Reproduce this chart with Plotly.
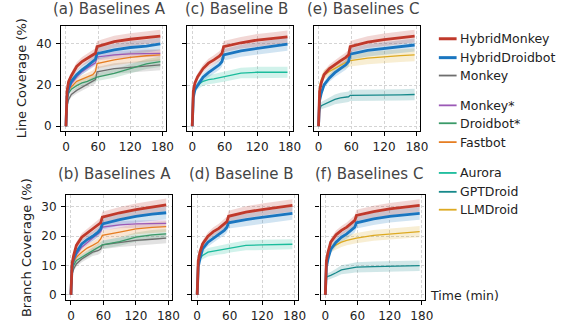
import plotly.graph_objects as go

# ---------------- data ----------------
T = [0, 2, 5, 10, 20, 30, 40, 50, 55, 58, 90, 120, 150, 176]

# Line coverage (%)
HM_A = [0, 17.0, 21.8, 24.5, 29.0, 31.4, 33.0, 34.6, 35.4, 38.6, 41.0, 42.2, 42.9, 43.7]
HD_A = [0, 14.5, 18.6, 21.8, 25.0, 27.4, 29.3, 31.4, 32.5, 35.2, 37.0, 38.2, 38.9, 40.0]
MK_A = [0, 10.0, 13.0, 15.4, 17.4, 19.0, 20.6, 22.0, 22.6, 26.4, 28.0, 28.6, 29.3, 29.8]
MKS_A = [0, 13.5, 17.5, 20.5, 24.0, 26.5, 28.3, 30.0, 30.8, 33.6, 34.6, 35.1, 35.4, 35.3]
DB_A = [0, 12.5, 16.0, 18.0, 19.7, 21.0, 21.8, 22.9, 23.3, 23.8, 25.6, 28.0, 30.2, 31.3]
FB_A = [0, 13.5, 17.8, 19.0, 21.8, 22.9, 23.8, 25.0, 26.6, 30.4, 32.2, 33.4, 34.2, 34.6]

HM_C = [0, 17.0, 21.0, 24.0, 28.0, 30.6, 32.2, 34.0, 35.4, 38.6, 40.5, 41.8, 42.6, 43.4]
HD_C = [0, 14.0, 17.8, 20.0, 23.8, 26.0, 27.7, 29.8, 31.4, 34.6, 36.6, 37.8, 38.9, 39.8]
AU_C = [0, 14.0, 17.8, 20.0, 21.8, 22.6, 23.0, 23.5, 23.8, 24.0, 25.8, 26.2, 26.2, 26.2]

HM_E = [0, 17.0, 21.0, 25.0, 28.0, 30.0, 31.7, 33.4, 34.6, 38.6, 40.8, 42.0, 42.8, 43.7]
HD_E = [0, 12.5, 16.0, 20.0, 23.4, 26.0, 28.0, 29.8, 31.4, 35.0, 36.8, 37.8, 38.7, 39.4]
GD_E = [0, 8.0, 10.0, 10.6, 11.7, 13.0, 13.8, 14.0, 14.3, 15.0, 15.0, 15.1, 15.2, 15.4]
LL_E = [0, 19.4, 22.6, 25.0, 26.6, 28.0, 29.8, 30.9, 31.4, 31.8, 33.0, 33.8, 34.3, 34.6]

# Branch coverage (%)
HM_B = [0, 10.5, 13.4, 16.8, 19.6, 21.0, 22.2, 23.6, 24.5, 26.4, 27.9, 29.0, 29.8, 30.6]
HD_B = [0, 9.5, 12.2, 14.5, 17.3, 18.8, 19.9, 21.3, 22.4, 24.1, 25.6, 26.7, 27.4, 27.9]
MK_B = [0, 7.0, 8.8, 10.5, 12.2, 13.4, 14.5, 15.0, 15.6, 17.0, 17.9, 18.5, 18.9, 19.3]
MKS_B = [0, 9.0, 11.7, 13.6, 16.2, 17.9, 19.3, 20.7, 21.5, 23.0, 23.8, 24.1, 24.2, 24.3]
DB_B = [0, 8.0, 10.0, 11.7, 12.8, 13.9, 15.0, 16.2, 16.6, 17.0, 18.1, 19.6, 20.4, 20.7]
FB_B = [0, 8.5, 11.1, 12.8, 14.5, 15.9, 16.8, 17.9, 19.0, 20.2, 21.3, 22.4, 22.9, 23.2]

HM_D = [0, 11.5, 14.5, 17.3, 19.9, 21.5, 22.6, 24.1, 24.9, 26.7, 28.1, 29.0, 29.8, 30.4]
HD_D = [0, 9.5, 12.2, 15.6, 17.9, 19.3, 20.7, 21.9, 23.0, 24.5, 25.6, 26.4, 27.0, 27.7]
AU_D = [0, 9.5, 12.2, 13.4, 14.5, 14.8, 15.2, 15.4, 15.7, 15.9, 16.8, 17.0, 17.1, 17.2]

HM_F = [0, 11.5, 14.5, 17.9, 20.4, 21.9, 23.0, 24.5, 25.3, 27.0, 28.3, 29.2, 29.8, 30.4]
HD_F = [0, 9.5, 12.2, 15.4, 17.9, 19.6, 20.7, 22.2, 23.0, 24.5, 25.8, 26.7, 27.2, 27.7]
GD_F = [0, 6.0, 6.3, 6.6, 7.5, 8.5, 8.8, 9.1, 9.3, 9.4, 9.6, 9.7, 9.8, 9.9]
LL_F = [0, 12.5, 15.0, 15.9, 17.0, 17.9, 18.5, 19.0, 19.2, 19.3, 20.2, 20.7, 21.1, 21.5]

# relative half-width of the shaded spread band
REL_SPREAD = {"HybridMonkey": 0.07, "HybridDroidbot": 0.08, "Monkey": 0.09,
              "Monkey*": 0.05, "Droidbot*": 0.08, "Fastbot": 0.08,
              "Aurora": 0.10, "GPTDroid": 0.18, "LLMDroid": 0.09}

TITLES = ["(a) Baselines A", "(c) Baseline B", "(e) Baselines C",
          "(b) Baselines A", "(d) Baseline B", "(f) Baselines C"]
X_TICKS = [0, 60, 120, 180]
Y_TICKS_LINE = [0, 20, 40]
Y_TICKS_BRANCH = [0, 10, 20, 30]

# ---------------- style ----------------
COLORS = {"HybridMonkey": "#C0392B", "HybridDroidbot": "#1A76C0", "Monkey": "#6E6E6E",
          "Monkey*": "#9B59B6", "Droidbot*": "#3A9A68", "Fastbot": "#E67E22",
          "Aurora": "#1ABC9C", "GPTDroid": "#17898B", "LLMDroid": "#DDAA22"}
THICK = {"HybridMonkey", "HybridDroidbot"}

PANELS = [
    [("Monkey", MK_A), ("Droidbot*", DB_A), ("Fastbot", FB_A), ("Monkey*", MKS_A),
     ("HybridDroidbot", HD_A), ("HybridMonkey", HM_A)],
    [("Aurora", AU_C), ("HybridDroidbot", HD_C), ("HybridMonkey", HM_C)],
    [("GPTDroid", GD_E), ("LLMDroid", LL_E), ("HybridDroidbot", HD_E), ("HybridMonkey", HM_E)],
    [("Monkey", MK_B), ("Droidbot*", DB_B), ("Fastbot", FB_B), ("Monkey*", MKS_B),
     ("HybridDroidbot", HD_B), ("HybridMonkey", HM_B)],
    [("Aurora", AU_D), ("HybridDroidbot", HD_D), ("HybridMonkey", HM_D)],
    [("GPTDroid", GD_F), ("LLMDroid", LL_F), ("HybridDroidbot", HD_F), ("HybridMonkey", HM_F)],
]

W, H = 578, 328
# pixel boxes in the window (left, right, top, bottom)
BOXES = [(62, 168, 26, 132), (190, 297, 26, 132), (318, 426, 26, 132),
         (67, 174, 196, 302), (195, 302, 196, 302), (325, 431, 196, 302)]


def px_x(v):
    return v / W


def px_y(v):
    return 1 - v / H


def rgba(hexc, a):
    h = hexc.lstrip("#")
    r, g, b = int(h[0:2], 16), int(h[2:4], 16), int(h[4:6], 16)
    return f"rgba({r},{g},{b},{a})"


fig = go.Figure()

for i, series in enumerate(PANELS):
    xa = "x" if i == 0 else f"x{i+1}"
    ya = "y" if i == 0 else f"y{i+1}"
    for name, vals in series:
        rel = REL_SPREAD[name]
        up = [v * (1 + rel) for v in vals]
        lo = [v * (1 - rel) for v in vals]
        fig.add_trace(go.Scatter(x=T + T[::-1], y=up + lo[::-1], fill="toself",
                                 fillcolor=rgba(COLORS[name], 0.2), line=dict(width=0),
                                 mode="lines", hoverinfo="skip", showlegend=False,
                                 xaxis=xa, yaxis=ya))
    for name, vals in series:
        fig.add_trace(go.Scatter(x=T, y=vals, mode="lines", name=name,
                                 line=dict(color=COLORS[name], width=2.8 if name in THICK else 1.3),
                                 showlegend=False, xaxis=xa, yaxis=ya))

layout = dict(width=W, height=H, margin=dict(l=0, r=0, t=0, b=0),
              paper_bgcolor="white", plot_bgcolor="white",
              font=dict(family="DejaVu Sans", size=12, color="#222"))

axis_common = dict(showline=True, mirror=True, linecolor="black", linewidth=1.2,
                   ticks="outside", ticklen=4, tickwidth=1, tickcolor="black",
                   showgrid=True, gridcolor="#d4d4d4", gridwidth=0.8, griddash="3px,2px",
                   zeroline=False, tickfont=dict(size=12, color="#222"))

for i, (l, r, t, b) in enumerate(BOXES):
    xk = "xaxis" if i == 0 else f"xaxis{i+1}"
    yk = "yaxis" if i == 0 else f"yaxis{i+1}"
    ya = "y" if i == 0 else f"y{i+1}"
    xa = "x" if i == 0 else f"x{i+1}"
    top_row = i < 3
    layout[xk] = dict(axis_common, domain=[px_x(l), px_x(r)], range=[-9, 186],
                      tickvals=X_TICKS, anchor=ya)
    yt = Y_TICKS_LINE if top_row else Y_TICKS_BRANCH
    layout[yk] = dict(axis_common, domain=[px_y(b), px_y(t)],
                      range=[-2.4, 48.7] if top_row else [-1.8, 34.0],
                      tickvals=yt, showticklabels=(i in (0, 3)), anchor=xa,
                      ticklabelstandoff=2)

fig.update_layout(**layout)

ann = []
for i, (l, r, t, b) in enumerate(BOXES):
    cy = 9 if i < 3 else 175
    ann.append(dict(x=px_x((l + r) / 2 - 4), y=px_y(cy), xref="paper", yref="paper",
                    text=TITLES[i], showarrow=False, xanchor="center", yanchor="middle",
                    font=dict(size=15, color="#444")))

ann.append(dict(x=px_x(22), y=px_y(79), xref="paper", yref="paper", text="Line Coverage (%)",
                textangle=-90, showarrow=False, xanchor="center", yanchor="middle",
                font=dict(size=13, color="#222")))
ann.append(dict(x=px_x(27), y=px_y(249), xref="paper", yref="paper", text="Branch Coverage (%)",
                textangle=-90, showarrow=False, xanchor="center", yanchor="middle",
                font=dict(size=13, color="#222")))
ann.append(dict(x=px_x(434), y=px_y(297), xref="paper", yref="paper", text="Time (min)",
                xanchor="left", yanchor="middle", showarrow=False, font=dict(size=12.5, color="#222")))

# legend (drawn manually to match grouping)
LEGEND_ORDER = ["HybridMonkey", "HybridDroidbot", "Monkey", "Monkey*", "Droidbot*",
                "Fastbot", "Aurora", "GPTDroid", "LLMDroid"]
LEGEND_Y = [39, 58, 76, 106, 124, 143, 174, 193, 211]
shapes = []
for name, ly in zip(LEGEND_ORDER, LEGEND_Y):
    shapes.append(dict(type="line", xref="paper", yref="paper",
                       x0=px_x(445), x1=px_x(463), y0=px_y(ly), y1=px_y(ly),
                       line=dict(color=COLORS[name], width=3 if name in THICK else 1.8)))
    ann.append(dict(x=px_x(464), y=px_y(ly), xref="paper", yref="paper", text=name,
                    xanchor="left", yanchor="middle", showarrow=False,
                    font=dict(size=12.5, color="#222")))

fig.update_layout(annotations=ann, shapes=shapes)
fig.write_html("out.html", config={"displayModeBar": False},
               post_script="document.body.style.margin='0';document.body.style.overflow='hidden';")
